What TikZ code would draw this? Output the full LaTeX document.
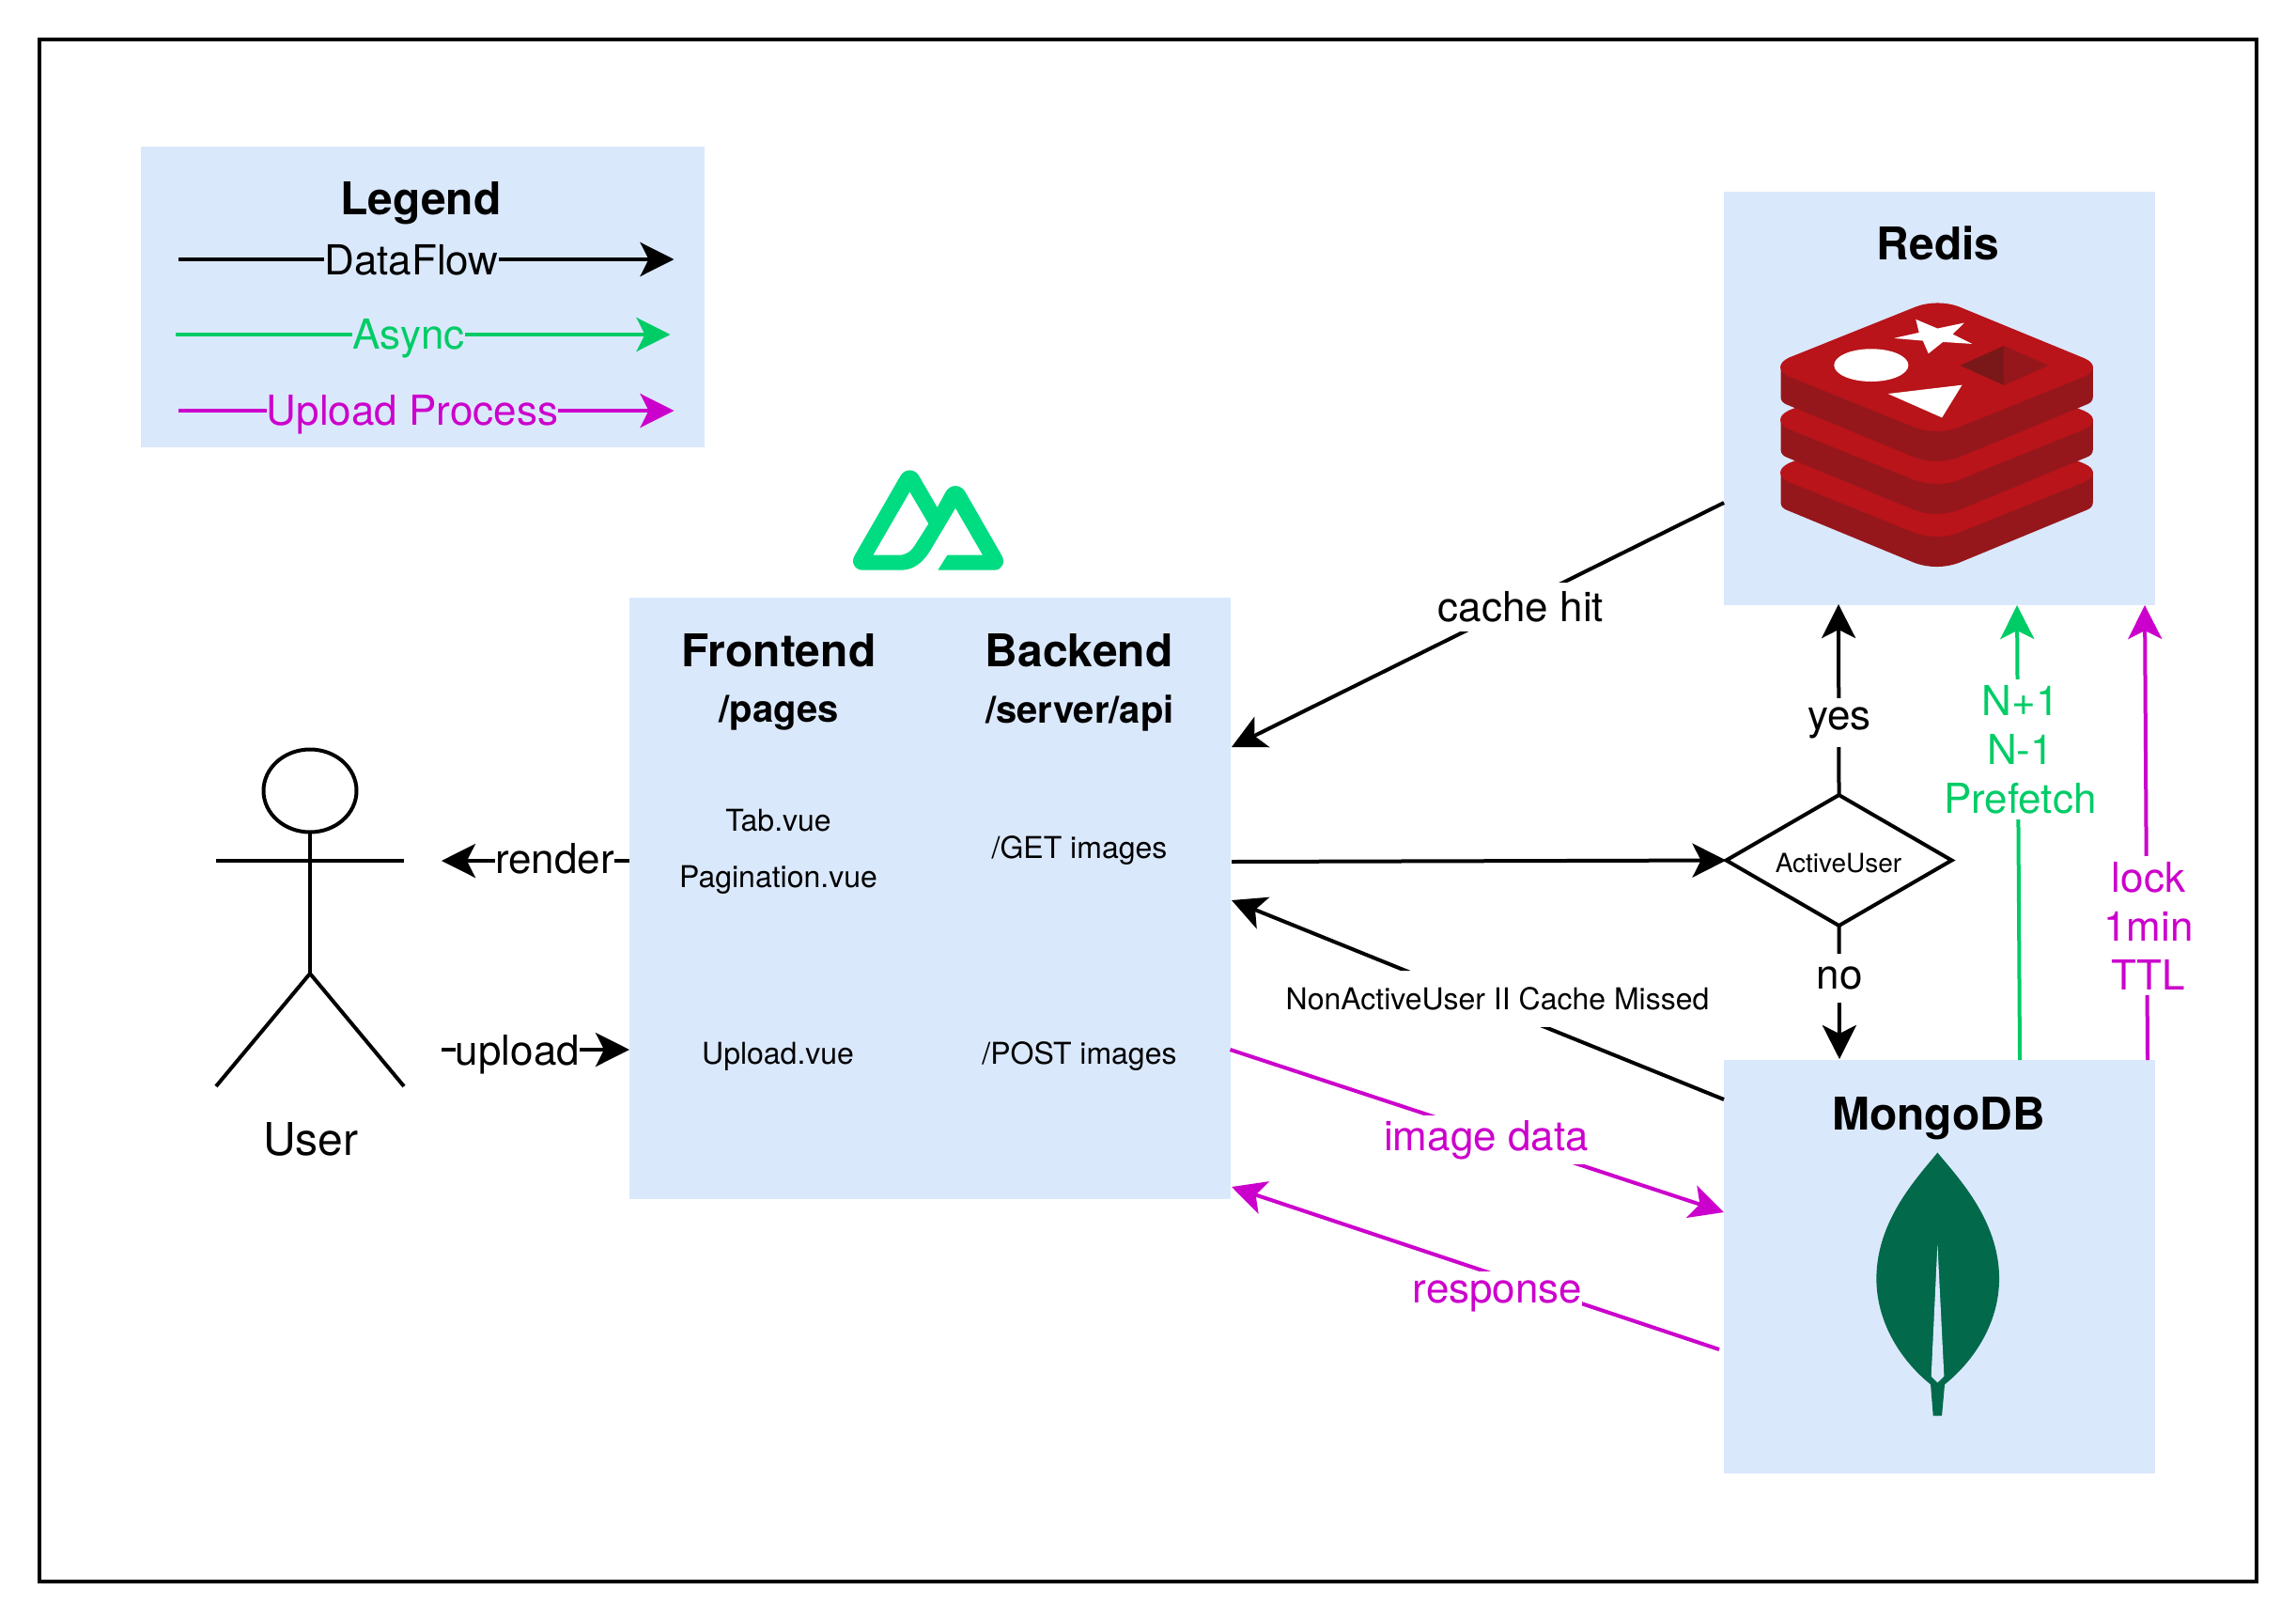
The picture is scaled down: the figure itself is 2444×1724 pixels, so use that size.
\documentclass[tikz,border=0pt]{standalone}
\usepackage{fontspec}
\setmainfont{TeX Gyre Heros}
\usetikzlibrary{arrows.meta,shapes.geometric}
\definecolor{boxblue}{HTML}{DAE8FC}
\definecolor{asyncgreen}{HTML}{00CC66}
\definecolor{upmag}{HTML}{CC00CC}
\definecolor{redislight}{HTML}{B8141A}
\definecolor{redisdark}{HTML}{96171B}
\definecolor{rediscube}{HTML}{7A1819}
\definecolor{nuxtgreen}{HTML}{00DC82}
\definecolor{leafgreen}{HTML}{02694B}
\newcommand{\fsz}[1]{\fontsize{#1}{26}\selectfont}
\newcommand{\redislayer}[1]{%
  \begin{scope}[yshift=#1]
  \fill[redisdark] (280,630) -- (280,725) .. controls (280,738) and (288,745) .. (300,750) -- (695,918) .. controls (740,934) and (785,934) .. (830,918) -- (1225,750) .. controls (1238,745) and (1246,738) .. (1246,725) -- (1246,630) -- cycle;
  \fill[redislight] (305,600) -- (700,437) .. controls (740,422) and (790,422) .. (830,437) -- (1220,602) .. controls (1255,618) and (1255,642) .. (1220,660) -- (830,822) .. controls (790,838) and (740,838) .. (695,822) -- (305,660) .. controls (270,642) and (270,618) .. (305,600) -- cycle;
  \end{scope}}
\tikzset{
  every node/.style={inner sep=0pt,outer sep=0pt},
  box/.style={fill=boxblue,draw=none},
  flow/.style={line width=2pt,-{Stealth[length=18pt,width=18pt,inset=4.5pt]}},
  blackflow/.style={flow,draw=black},
  greenflow/.style={flow,draw=asyncgreen},
  magflow/.style={flow,draw=upmag},
  lab/.style={font=\fsz{22},fill=white,inner xsep=0pt,minimum height=26pt,align=center},
  multilab/.style={font=\fsz{22},fill=white,inner xsep=0pt,inner ysep=3pt,align=center},
  leglab/.style={font=\fsz{22},fill=boxblue,inner xsep=0pt,minimum height=26pt},
  title/.style={font=\bfseries\fsz{24}},
  sub/.style={font=\bfseries\fsz{20}},
  small/.style={font=\fsz{16}},
  actor/.style={line width=2pt,draw=black},
}
\begin{document}
\begin{tikzpicture}[x=0.5pt,y=-0.5pt]
\useasboundingbox (0,0) rectangle (2444,1724);
\fill[white] (0,0) rectangle (2444,1724);
\node[draw=black,line width=2pt,minimum width=1180pt,minimum height=820.5pt] (frame) at (1222,862.5) {};
% boxes
\node[box,minimum width=300pt,minimum height=160pt] (legend) at (450,316) {};
\node[box,minimum width=229.5pt,minimum height=220pt] (redis) at (2064.5,424) {};
\node[box,minimum width=320pt,minimum height=320pt] (fe) at (990,956) {};
\node[box,minimum width=229.5pt,minimum height=220pt] (mongo) at (2064.5,1348) {};
% legend
\node[title] (legt) at (448,216) {Legend};
\coordinate (la1) at (190,276); \coordinate (lb1) at (717.5,276);
\coordinate (la2) at (187,356); \coordinate (lb2) at (713.5,356);
\coordinate (la3) at (190,437); \coordinate (lb3) at (717.5,437);
\draw[blackflow] (la1) -- (lb1);
\draw[greenflow] (la2) -- (lb2);
\draw[magflow] (la3) -- (lb3);
\node[leglab] (l1) at (438,277) {DataFlow};
\node[leglab,text=asyncgreen] (l2) at (435,360) {Async};
\node[leglab,text=upmag] (l3) at (439,441) {Upload Process};
% redis logo
\node[title] (redt) at (2063,259) {Redis};
\begin{scope}[shift={(1895.5,322.5)},x=0.172pt,y=-0.167pt,shift={(-280,-426)}]
\redislayer{-336*0.167pt}
\redislayer{-168*0.167pt}
\redislayer{0pt}
\fill[white] (698,478) -- (765,507) -- (848,489) -- (812,525) -- (872,556) -- (782,550) -- (737,587) -- (720,546) -- (630,538) -- (708,520) -- cycle;
\fill[white] (560,624) ellipse [x radius=115,y radius=52];
\fill[white] (612,715) -- (841,687) -- (779,791) -- cycle;
\fill[rediscube] (835,625) -- (971,562) -- (971,688) -- cycle;
\fill[redisdark] (971,562) -- (1108,625) -- (971,688) -- cycle;
\end{scope}
% nuxt logo
\begin{scope}[shift={(860,470)},x=0.1667pt,y=-0.1667pt]
\fill[nuxtgreen,even odd rule] (415,410) -- (445,362) -- (558,362) -- (471,212) -- (392,345) .. controls (365,390) and (335,410) .. (295,410) -- (175,410) .. controls (150,410) and (135,385) .. (150,362) -- (295,110) .. controls (308,85) and (342,85) .. (355,110) -- (413,210) -- (440,160) .. controls (455,135) and (487,135) .. (502,160) -- (618,362) .. controls (632,385) and (620,410) .. (595,410) -- cycle
(325,160) -- (385,262) -- (345,325) .. controls (330,350) and (315,362) .. (290,362) -- (208,362) -- cycle;
\end{scope}
% mongo
\node[title] (mont) at (2063.5,1190) {MongoDB};
\begin{scope}[shift={(1900,1150.5)},x=0.1667pt,y=-0.1667pt]
\fill[leafgreen] (487,228) .. controls (430,300) and (292,440) .. (292,630) .. controls (292,780) and (380,900) .. (465,968) -- (473,1068) -- (501,1068) -- (510,968) .. controls (595,900) and (684,780) .. (684,630) .. controls (684,440) and (545,300) .. (487,228) -- cycle;
\fill[boxblue] (487,520) -- (508,942) -- (487,962) -- (467,942) -- cycle;
\end{scope}
% frontend texts
\node[title] (ft) at (829,692) {Frontend};
\node[title] (bt) at (1148.5,692) {Backend};
\node[sub] (fs) at (829,759) {/pages};
\node[sub] (bs) at (1149.5,759) {/server/api};
\node[small] (tab) at (828.5,873) {Tab.vue};
\node[small] (pag) at (828.5,936) {Pagination.vue};
\node[small] (get) at (1149,905) {/GET images};
\node[small] (upl) at (828,1124.5) {Upload.vue};
\node[small] (post) at (1149,1124.5) {/POST images};
% actor
\node[ellipse,actor,minimum width=49.5pt,minimum height=44pt] (head) at (330,841.5) {};
\coordinate (hip) at (330,1036);
\coordinate (arml) at (230,916); \coordinate (armr) at (430,916);
\coordinate (legl) at (230,1156); \coordinate (legr) at (430,1156);
\draw[actor] (head.south) -- (hip);
\draw[actor] (arml) -- (armr);
\draw[actor] (legl) -- (hip) -- (legr);
\node[font=\fsz{24}] (user) at (331,1212) {User};
% diamond
\node[diamond,draw=black,line width=2pt,fill=white,aspect=1.72,minimum width=120pt,minimum height=69.5pt,inner sep=0pt] (au) at (1957.5,915.5) {};
\node[font=\fsz{14}] (aut) at (1957,919) {ActiveUser};
% connector points
\coordinate (rA) at (470,916);
\coordinate (fL1) at (670,916);
\coordinate (uA) at (470,1117);
\coordinate (fL2) at (670,1117);
\coordinate (rC) at (1835,535);
\coordinate (fC) at (1311,795);
\coordinate (fO) at (1311,917);
\coordinate (mN) at (1835,1170);
\coordinate (fN) at (1311,958);
\coordinate (fI) at (1309.5,1117);
\coordinate (mI) at (1835,1290);
\coordinate (mR) at (1830,1436);
\coordinate (fR) at (1311,1263);
\coordinate (yT) at (1957,643);
\coordinate (nB) at (1958,1127);
\coordinate (gA) at (2150,1128);
\coordinate (gB) at (2147,644);
\coordinate (mA) at (2286,1128);
\coordinate (mB) at (2283,644);
% connectors
\draw[blackflow] (fL1) -- (rA);
\draw[blackflow] (uA) -- (fL2);
\draw[blackflow] (rC) -- (fC);
\draw[blackflow] (fO) -- (au.west);
\draw[blackflow] (au.north) -- (yT);
\draw[blackflow] (au.south) -- (nB);
\draw[blackflow] (mN) -- (fN);
\draw[magflow] (fI) -- (mI);
\draw[magflow] (mR) -- (fR);
\draw[greenflow] (gA) -- (gB);
\draw[magflow] (mA) -- (mB);
% labels
\node[lab] (lr) at (590.5,914) {render};
\node[lab] (lu) at (551,1122.5) {upload};
\node[lab] (lc) at (1619,645.5) {cache hit};
\node[lab] (ly) at (1958,769) {yes};
\node[lab] (ln) at (1958,1041) {no};
\node[lab,font=\fsz{16},minimum height=30pt] (lna) at (1594,1063) {NonActiveUser II Cache Missed};
\node[lab,text=upmag] (li) at (1582,1213) {image data};
\node[lab,text=upmag] (lre) at (1594,1379) {response};
\node[multilab,text=asyncgreen] (lg) at (2150.5,797.5) {N+1\\N-1\\Prefetch};
\node[multilab,text=upmag] (lm) at (2287,985) {lock\\1min\\TTL};
\end{tikzpicture}
\end{document}
